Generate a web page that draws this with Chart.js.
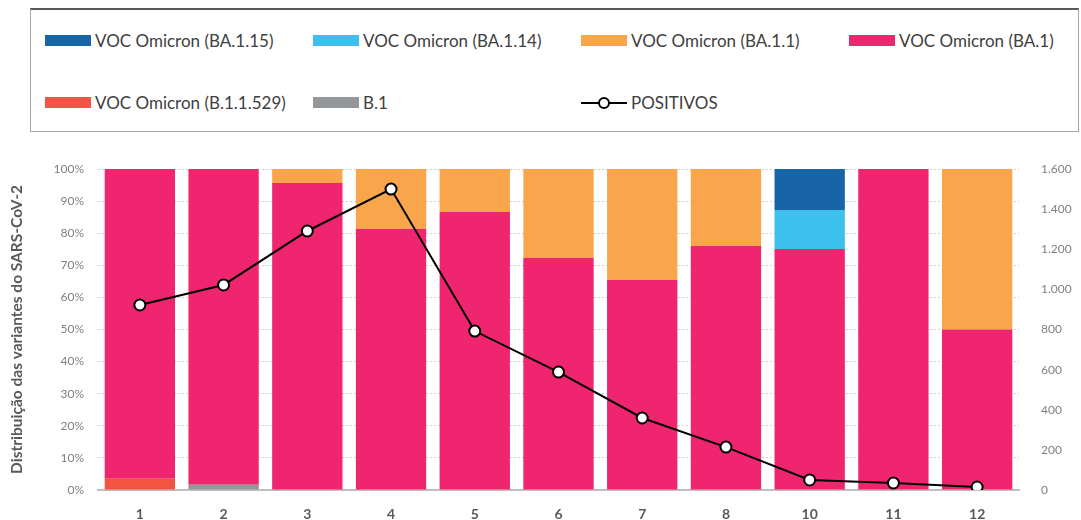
<!DOCTYPE html>
<html>
<head>
<meta charset="utf-8">
<script src="https://cdn.jsdelivr.net/npm/chart.js@4"></script>
<style>
  body { margin: 0; background: #fff; font-family: Lato, "Open Sans", sans-serif; }
  #wrap { position: relative; width: 1081px; height: 520px; }
  #legend {
    position: absolute; left: 30px; top: 8px; width: 1049px; height: 124px;
    border: 1px solid #a6a6a6; border-top: 2px solid #595959; box-sizing: border-box;
  }
  .item { position: absolute; display: flex; align-items: center; font-size: 17px; color: #404040; }
  .swatch { width: 46px; height: 11px; margin-right: 4px; }
  #chartBox { position: absolute; left: 0; top: 140px; width: 1081px; height: 380px; }
</style>
</head>
<body>
<div id="wrap">
  <div id="legend"></div>
  <div id="chartBox"><canvas id="myChart"></canvas></div>
</div>
<script>
// categories (week numbers)
var weeks = ["1", "2", "3", "4", "5", "6", "7", "8", "10", "11", "12"];

// variant share, % of sequenced samples
var ba1_15   = [0, 0, 0, 0, 0, 0, 0, 0, 12.8, 0, 0];
var ba1_14   = [0, 0, 0, 0, 0, 0, 0, 0, 12.1, 0, 0];
var ba1_1    = [0, 0, 4.4, 18.7, 13.4, 27.7, 34.6, 24.0, 0, 0, 50];
var ba1      = [96.5, 98.4, 95.6, 81.3, 86.6, 72.3, 65.4, 76.0, 75.1, 100, 50];
var b11529   = [3.5, 0, 0, 0, 0, 0, 0, 0, 0, 0, 0];
var b1       = [0, 1.6, 0, 0, 0, 0, 0, 0, 0, 0, 0];

// positive cases
var positivos = [922, 1022, 1291, 1500, 792, 588, 359, 214, 50, 35, 15];

var pctTicks = [0, 10, 20, 30, 40, 50, 60, 70, 80, 90, 100];
var posTicks = [0, 200, 400, 600, 800, 1000, 1200, 1400, 1600];

function barSet(label, data, color) {
  return {
    type: "bar", label: label, data: data, backgroundColor: color,
    yAxisID: "y", stack: "v", order: 1,
    barPercentage: 0.84, categoryPercentage: 1.0
  };
}

// stacking order: first dataset sits at the bottom
var datasets = [
  barSet("VOC Omicron (B.1.1.529)", b11529, "#F25444"),
  barSet("B.1", b1, "#949799"),
  barSet("VOC Omicron (BA.1)", ba1, "#EF266F"),
  barSet("VOC Omicron (BA.1.1)", ba1_1, "#F9A54B"),
  barSet("VOC Omicron (BA.1.14)", ba1_14, "#3EC0EF"),
  barSet("VOC Omicron (BA.1.15)", ba1_15, "#1764A7"),
  {
    type: "line", label: "POSITIVOS", data: positivos, yAxisID: "y1", order: 0,
    borderColor: "#000", borderWidth: 2, pointRadius: 5.5, pointBorderWidth: 2,
    pointBackgroundColor: "#fff", pointBorderColor: "#000", tension: 0
  }
];

// HTML legend laid out like the original (4 columns, 2 rows)
var legendOrder = [
  ["VOC Omicron (BA.1.15)", "#1764A7"], ["VOC Omicron (BA.1.14)", "#3EC0EF"],
  ["VOC Omicron (BA.1.1)", "#F9A54B"], ["VOC Omicron (BA.1)", "#EF266F"],
  ["VOC Omicron (B.1.1.529)", "#F25444"], ["B.1", "#949799"], ["POSITIVOS", null]
];
var legend = document.getElementById("legend");
for (let i = 0; i < legendOrder.length; i++) {
  var div = document.createElement("div");
  div.className = "item";
  div.style.left = (14 + (i % 4) * 268) + "px";
  div.style.top = (i < 4 ? 20 : 82) + "px";
  if (legendOrder[i][1]) {
    div.innerHTML = '<span class="swatch" style="background:' + legendOrder[i][1] + '"></span>' + legendOrder[i][0];
  } else {
    div.innerHTML = '<svg width="46" height="14" style="margin-right:4px"><line x1="0" y1="7" x2="46" y2="7" stroke="#000" stroke-width="2"/><circle cx="23" cy="7" r="5" fill="#fff" stroke="#000" stroke-width="2"/></svg>' + legendOrder[i][0];
  }
  legend.appendChild(div);
}

function thousands(v) {
  return String(v).replace(/\B(?=(\d{3})+(?!\d))/g, ".");
}

var tickFont = { family: "Lato, 'Open Sans', sans-serif", size: 12 };

new Chart(document.getElementById("myChart").getContext("2d"), {
  data: { labels: weeks, datasets: datasets },
  options: {
    responsive: true, maintainAspectRatio: false, animation: false,
    layout: { padding: { top: 29, left: 0, right: 0, bottom: 0 } },
    plugins: { legend: { display: false }, tooltip: { enabled: false } },
    scales: {
      x: {
        stacked: true,
        grid: { display: false },
        border: { color: "#BFBFBF", width: 2 },
        ticks: { color: "#595959", font: { family: "Lato, 'Open Sans', sans-serif", size: 14, weight: "bold" }, padding: 8 },
        afterFit: function (scale) { scale.height = 30; }
      },
      y: {
        stacked: true, position: "left", min: 0, max: 100,
        afterBuildTicks: function (scale) { scale.ticks = pctTicks.map(v => ({ value: v })); },
        ticks: { color: "#7F7F7F", font: tickFont, padding: 14, callback: v => v + "%" },
        grid: { color: "#D0D0D0", drawTicks: false },
        border: { display: false, dash: [2, 2] },
        title: {
          display: true, text: "Distribuição das variantes do SARS-CoV-2", color: "#595959",
          font: { family: "Lato, 'Open Sans', sans-serif", size: 15.5, weight: "bold" },
          padding: { top: 8, bottom: 0 }
        },
        afterFit: function (scale) { scale.width = 98; }
      },
      y1: {
        position: "right", min: 0, max: 1600,
        afterBuildTicks: function (scale) { scale.ticks = posTicks.map(v => ({ value: v })); },
        ticks: { color: "#7F7F7F", font: tickFont, padding: 14, callback: v => thousands(v) },
        grid: { display: false },
        border: { display: false },
        afterFit: function (scale) { scale.width = 62; }
      }
    }
  }
});
</script>
</body>
</html>
